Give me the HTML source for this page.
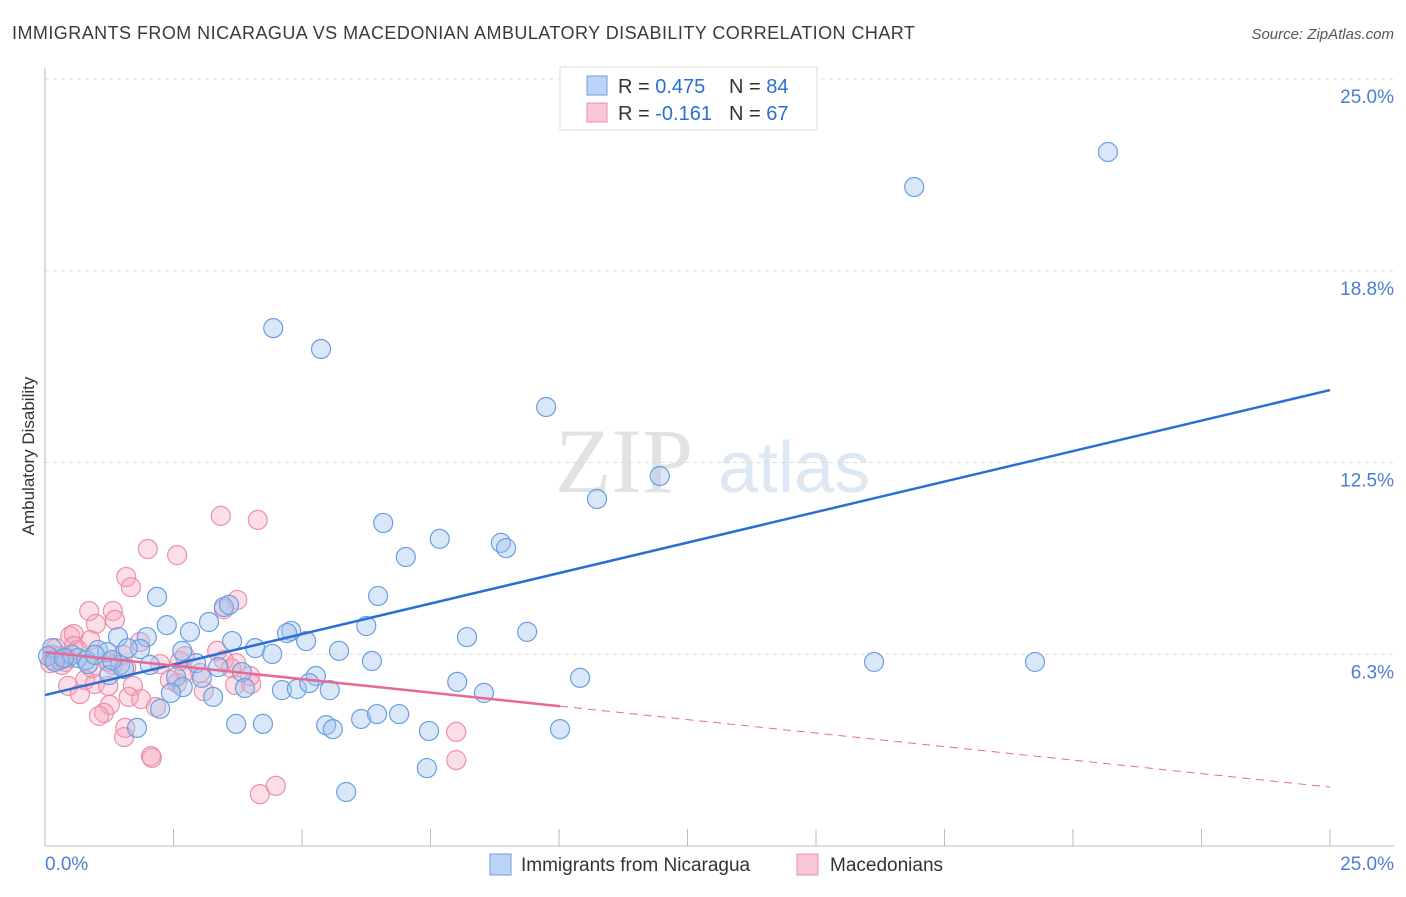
<!DOCTYPE html>
<html><head><meta charset="utf-8"><style>
body{margin:0;background:#fff;font-family:"Liberation Sans",sans-serif;}
</style></head><body>
<svg id="chart" width="1406" height="892" xmlns="http://www.w3.org/2000/svg" style="font-family:'Liberation Sans',sans-serif">
<text x="12" y="39" font-size="18" letter-spacing="0.45" fill="#3a3a3a">IMMIGRANTS FROM NICARAGUA VS MACEDONIAN AMBULATORY DISABILITY CORRELATION CHART</text>
<text x="1394" y="39" font-size="15" fill="#555" text-anchor="end" font-style="italic">Source: ZipAtlas.com</text>
<g><text x="555" y="492" font-size="92" fill="#e2e2e2" font-family="Liberation Serif,serif">ZIP</text><text x="718" y="492" font-size="72" fill="#dde8f5">atlas</text></g>
<g id="grid"></g>
<g id="axes"></g>
<g id="marks"></g>
<text transform="translate(34,456) rotate(-90)" font-size="17" fill="#333" text-anchor="middle">Ambulatory Disability</text>
<g>
<rect x="560" y="67" width="257" height="63" fill="#fff" stroke="#ddd"/>
<rect x="587" y="76" width="20" height="19" fill="#bcd4f5" stroke="#6a9fe0"/>
<rect x="587" y="103" width="20" height="19" fill="#f9c6d5" stroke="#eb90a8"/>
<text x="618" y="93" font-size="20" fill="#333">R = <tspan fill="#2a6fd4">0.475</tspan></text>
<text x="729" y="93" font-size="20" fill="#333">N = <tspan fill="#2a6fd4">84</tspan></text>
<text x="618" y="120" font-size="20" fill="#333">R = <tspan fill="#2a6fd4">-0.161</tspan></text>
<text x="729" y="120" font-size="20" fill="#333">N = <tspan fill="#2a6fd4">67</tspan></text>
</g>
<g>
<rect x="490" y="854" width="21" height="21" fill="#bcd4f5" stroke="#6a9fe0"/>
<text x="521" y="871" font-size="19" fill="#333">Immigrants from Nicaragua</text>
<rect x="797" y="854" width="21" height="21" fill="#f9c6d5" stroke="#eb90a8"/>
<text x="830" y="871" font-size="19" fill="#333">Macedonians</text>
</g>
</svg>
<script>
const yTicks=[25,18.75,12.5,6.25];
const yTickLabels=["25.0%","18.8%","12.5%","6.3%"];
const xTickLabels=["0.0%","25.0%"];
const blueX=[4.44,5.37,9.75,11.96,10.74,6.58,7.68,7.02,8.87,8.97,16.91,20.68,2.18,6.48,3.48,3.58,3.19,2.37,2.82,6.25,8.21,9.38,1.42,1.98,4.79,4.71,5.08,3.64,4.09,4.42,5.72,6.36,16.13,19.26,2.67,1.85,1.03,1.61,1.21,0.29,0.53,0.64,0.80,1.46,2.04,2.94,3.37,3.83,5.27,10.41,8.02,8.54,2.55,2.68,3.05,1.25,1.54,2.45,3.27,3.89,4.61,4.90,5.14,5.54,2.24,1.79,3.72,4.24,5.47,5.60,6.15,6.46,6.89,7.47,10.02,7.43,5.86,0.14,0.06,0.19,0.37,0.84,0.97,1.30];
const blueY=[16.88,16.20,14.31,12.06,11.31,10.53,10.01,9.42,9.88,9.71,21.48,22.62,8.12,8.15,7.79,7.86,7.30,7.20,6.98,7.17,6.81,6.98,6.81,6.81,7.01,6.94,6.68,6.68,6.45,6.26,6.36,6.03,6.00,6.00,6.36,6.42,6.39,6.45,6.32,6.06,6.23,6.13,6.06,5.90,5.90,5.96,5.83,5.67,5.54,5.48,5.35,4.99,5.51,5.18,5.48,5.57,5.77,4.99,4.86,5.15,5.08,5.12,5.31,5.08,4.47,3.85,3.98,3.98,3.94,3.81,4.14,4.30,4.30,3.75,3.81,2.54,1.76,6.45,6.19,6.00,6.13,5.93,6.23,6.06];
const pinkX=[3.42,4.14,2.00,2.57,1.58,1.67,3.74,3.48,0.86,1.32,1.36,0.99,0.49,0.56,0.88,0.56,0.21,0.64,0.29,0.39,0.10,0.14,0.43,1.85,1.52,1.23,1.58,2.63,2.24,3.35,3.48,3.62,2.72,0.78,0.97,0.45,0.68,1.23,1.71,1.63,1.87,2.57,3.09,3.70,4.01,1.26,1.15,1.05,2.16,1.56,1.54,2.06,2.08,4.18,4.49,8.00,8.00,3.72,0.33,0.16,0.91,2.72,1.32,3.02,2.43,3.99];
const pinkY=[10.76,10.63,9.68,9.48,8.77,8.44,8.02,7.72,7.66,7.66,7.37,7.24,6.84,6.91,6.71,6.52,6.45,6.39,6.19,6.00,5.96,6.23,6.13,6.65,6.23,6.00,5.80,6.03,5.93,6.36,6.06,5.80,5.67,5.41,5.28,5.22,4.95,5.22,5.22,4.86,4.79,5.31,5.05,5.25,5.28,4.60,4.34,4.24,4.53,3.85,3.55,2.93,2.87,1.69,1.96,3.72,2.80,5.96,5.90,6.06,5.80,6.19,5.90,5.64,5.41,5.54];
const blueTrend=[4.92,14.86];
const pinkTrend=[6.32,1.92];
const pinkSolidEnd=10.02;

const NS="http://www.w3.org/2000/svg";
const X=v=>45+v*51.4, Y=v=>846-v*30.68;
function mk(tag,attrs,parent){const e=document.createElementNS(NS,tag);for(const k in attrs)e.setAttribute(k,attrs[k]);parent.appendChild(e);return e;}
const grid=document.getElementById('grid'),axes=document.getElementById('axes'),marks=document.getElementById('marks');
yTicks.forEach((t,i)=>{
  const l=mk('line',{x1:45,x2:1394,y1:Y(t),y2:Y(t),stroke:'#ddd','stroke-dasharray':'4,4'},grid);
  
  
  const tx=mk('text',{x:1394,y:Y(t)+24,'font-size':19,fill:'#4a7fd0','text-anchor':'end'},axes);
  tx.textContent=yTickLabels[i];
  
  
});
const ya=mk('line',{x1:45,x2:45,y1:68,y2:846,stroke:'#bbb'},axes);


const xa=mk('line',{x1:45,x2:1394,y1:846,y2:846,stroke:'#bbb'},axes);


for(let i=0;i<=10;i++){
  const t=mk('line',{x1:X(i*2.5),x2:X(i*2.5),y1:829,y2:846,stroke:'#bbb'},axes);
  
  
}
[[0,'start',45],[25,'end',1394]].forEach((d,i)=>{
  const tx=mk('text',{x:d[2],y:870,'font-size':19,fill:'#4a7fd0','text-anchor':d[1]},axes);
  tx.textContent=xTickLabels[i];
  
  
});
pinkX.forEach((v,i)=>{
  const c=mk('circle',{cx:X(v),cy:Y(pinkY[i]),r:9.5,fill:'rgba(245,160,185,0.35)',stroke:'#eb90a8','stroke-width':1.2},marks);
  
  
});
blueX.forEach((v,i)=>{
  const c=mk('circle',{cx:X(v),cy:Y(blueY[i]),r:9.5,fill:'rgba(160,195,240,0.4)',stroke:'#6a9fe0','stroke-width':1.2},marks);
  
  
});
const bl=mk('line',{x1:X(0),y1:Y(blueTrend[0]),x2:X(25),y2:Y(blueTrend[1]),stroke:'#2a6fd4','stroke-width':2.5},marks);


const pAt=v=>pinkTrend[0]+(pinkTrend[1]-pinkTrend[0])*v/25;
const pl=mk('line',{x1:X(0),y1:Y(pinkTrend[0]),x2:X(pinkSolidEnd),y2:Y(pAt(pinkSolidEnd)),stroke:'#e86a92','stroke-width':2.5},marks);


const pd=mk('line',{x1:X(pinkSolidEnd),y1:Y(pAt(pinkSolidEnd)),x2:X(25),y2:Y(pinkTrend[1]),stroke:'#e86a92','stroke-width':1,'stroke-dasharray':'8,6'},marks);


</script>
</body></html>
